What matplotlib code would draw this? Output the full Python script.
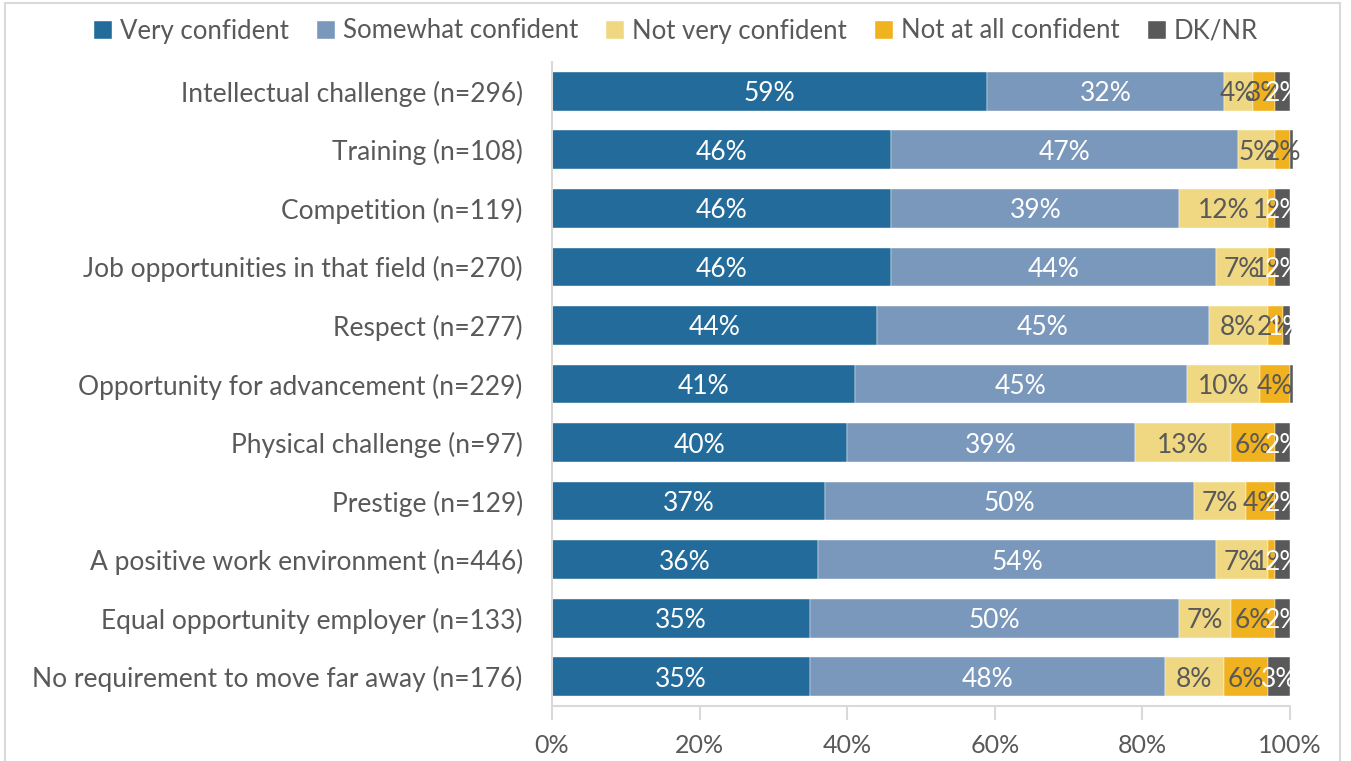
import matplotlib.pyplot as plt
from matplotlib.patches import Rectangle
import numpy as np

plt.rcParams['font.family'] = ['Lato', 'DejaVu Sans']

# Chart data
categories = ['Intellectual challenge (n=296)', 'Training (n=108)', 'Competition (n=119)',
              'Job opportunities in that field (n=270)', 'Respect (n=277)',
              'Opportunity for advancement (n=229)', 'Physical challenge (n=97)',
              'Prestige (n=129)', 'A positive work environment (n=446)',
              'Equal opportunity employer (n=133)', 'No requirement to move far away (n=176)']
series_names = ['Very confident', 'Somewhat confident', 'Not very confident',
                'Not at all confident', 'DK/NR']
very = [59, 46, 46, 46, 44, 41, 40, 37, 36, 35, 35]
somewhat = [32, 47, 39, 44, 45, 45, 39, 50, 54, 50, 48]
not_very = [4, 5, 12, 7, 8, 10, 13, 7, 7, 7, 8]
not_at_all = [3, 2, 1, 1, 2, 4, 6, 4, 1, 6, 6]
dk_nr = [2, 0.4, 2, 2, 1, 0.4, 2, 2, 2, 2, 3]
ticks = [0, 20, 40, 60, 80, 100]

colors = ['#236B9A', '#7A97BC', '#F0D883', '#F0B21E', '#595959']
label_colors = ['white', 'white', '#595959', '#595959', 'white']
grey = '#595959'

fig = plt.figure(figsize=(13.51, 7.61), dpi=100)
ax = fig.add_axes([552 / 1351, 1 - 706 / 761, (1290 - 552) / 1351, (706 - 62) / 761])

y = np.arange(len(categories))
left = np.zeros(len(categories))
for name, vals, col, tcol in zip(series_names, [very, somewhat, not_very, not_at_all, dk_nr],
                                 colors, label_colors):
    vals = np.array(vals, dtype=float)
    bars = ax.barh(y, vals, left=left, height=0.66, color=col, label=name,
                   edgecolor='white', linewidth=0.3)
    for b in bars:
        b.set_clip_on(False)
    for yi, l, v in zip(y, left, vals):
        if v >= 1:
            ax.text(l + v / 2, yi, f'{v:.0f}%', ha='center', va='center_baseline',
                    color=tcol, fontsize=19)
    left += vals

ax.set_ylim(len(categories) - 0.5, -0.5)
ax.set_xlim(0, 100)
ax.set_yticks(y)
ax.set_yticklabels(categories, fontsize=19, color=grey)
ax.set_xticks(ticks)
ax.set_xticklabels([f'{t}%' for t in ticks], fontsize=18, color=grey)
ax.tick_params(axis='y', length=0, pad=21)
ax.tick_params(axis='x', length=10, color='#D9D9D9', width=1.5, pad=10)
for s in ['top', 'right']:
    ax.spines[s].set_visible(False)
for s in ['left', 'bottom']:
    ax.spines[s].set_color('#D9D9D9')
    ax.spines[s].set_linewidth(1.5)

leg = fig.legend(loc='center', bbox_to_anchor=(676 / 1351, 1 - 31 / 761), ncol=5,
                 frameon=False, fontsize=18.5, handlelength=0.7, handleheight=0.7,
                 handletextpad=0.3, columnspacing=1.1)
for t in leg.get_texts():
    t.set_color(grey)

# chart frame
fig.patches.append(Rectangle((5 / 1351, -0.01), 1335 / 1351, 1 - 3 / 761 + 0.01,
                             transform=fig.transFigure, fill=False,
                             edgecolor='#D9D9D9', linewidth=1.5))

fig.savefig('out.png', dpi=100)
